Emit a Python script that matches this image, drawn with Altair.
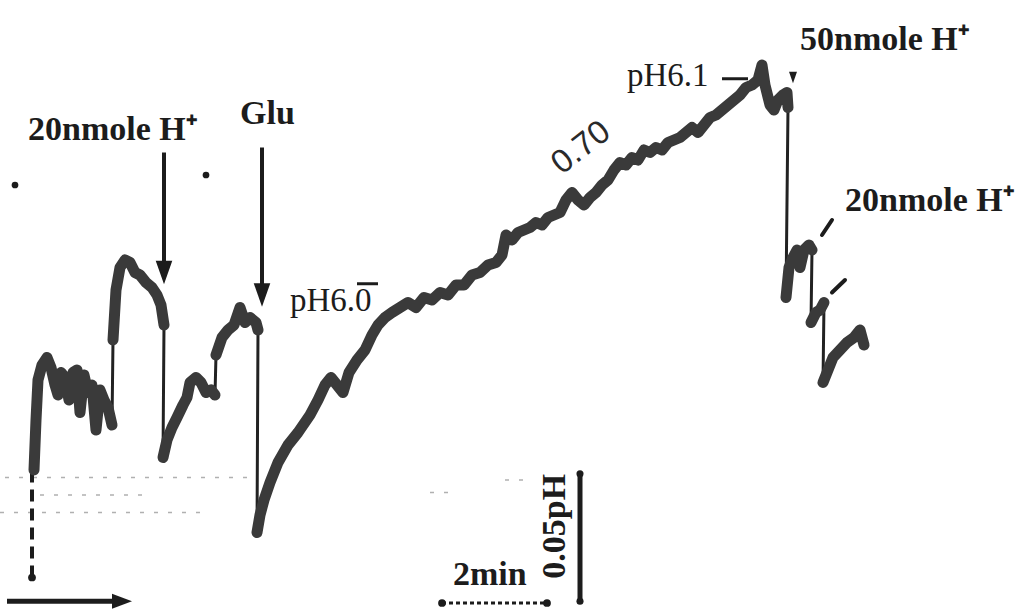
import altair as alt
import pandas as pd

# ---------------- data read from the recording ----------------
# pH trace, one list per pen segment: time (min) and pH
seg_time = [
    [0.68, 0.72, 0.76, 0.84, 0.94, 1.02, 1.10, 1.16, 1.22, 1.30, 1.38, 1.46, 1.54, 1.60, 1.68,
     1.76, 1.84, 1.92, 2.00, 2.08, 2.16, 2.24],
    [2.26, 2.32, 2.40, 2.50, 2.60, 2.70, 2.80, 2.92, 3.04, 3.14, 3.22, 3.28],
    [3.26, 3.34, 3.44, 3.54, 3.66, 3.74, 3.80, 3.92, 4.02, 4.12, 4.22, 4.30],
    [4.32, 4.44, 4.56, 4.68, 4.80, 4.90, 5.00, 5.12, 5.16],
    [5.14, 5.20, 5.28, 5.40, 5.56, 5.76, 5.96, 6.20, 6.36, 6.50, 6.62, 6.74, 6.86, 6.98, 7.14,
     7.30, 7.44, 7.56, 7.70, 7.84, 8.00, 8.16, 8.32, 8.48, 8.64, 8.80, 8.96, 9.12, 9.28, 9.44,
     9.60, 9.76, 9.92, 10.04, 10.12, 10.24, 10.36, 10.48, 10.60, 10.72, 10.84, 10.96, 11.08,
     11.20, 11.32, 11.44, 11.56, 11.68, 11.80, 11.92, 12.04, 12.16, 12.28, 12.40, 12.52, 12.64,
     12.76, 12.88, 13.00, 13.12, 13.24, 13.36, 13.48, 13.60, 13.72, 13.84, 13.96, 14.08, 14.20,
     14.32, 14.44, 14.56, 14.68, 14.80, 14.92, 15.04, 15.16, 15.24, 15.30, 15.40, 15.48, 15.56,
     15.66, 15.74, 15.76],
    [15.72, 15.78, 15.86, 15.94, 16.00, 16.08, 16.18, 16.24],
    [16.22, 16.32, 16.40, 16.48],
    [16.46, 16.54, 16.66, 16.80, 16.94, 17.08, 17.20, 17.28],
]
seg_ph = [
    [5.937, 5.957, 5.973, 5.979, 5.982, 5.978, 5.971, 5.967, 5.976, 5.974, 5.965, 5.976, 5.977,
     5.960, 5.975, 5.968, 5.971, 5.953, 5.969, 5.965, 5.962, 5.955],
    [5.989, 6.009, 6.018, 6.021, 6.020, 6.016, 6.015, 6.012, 6.010, 6.007, 6.003, 5.995],
    [5.942, 5.949, 5.954, 5.958, 5.963, 5.966, 5.972, 5.974, 5.972, 5.968, 5.969, 5.967],
    [5.983, 5.990, 5.993, 5.995, 6.002, 5.996, 5.998, 5.996, 5.993],
    [5.912, 5.919, 5.925, 5.932, 5.940, 5.947, 5.952, 5.959, 5.965, 5.971, 5.974, 5.971, 5.968,
     5.976, 5.981, 5.985, 5.991, 5.995, 5.998, 6.000, 6.002, 6.004, 6.002, 6.006, 6.005, 6.008,
     6.007, 6.011, 6.011, 6.015, 6.016, 6.019, 6.020, 6.023, 6.031, 6.029, 6.032, 6.033, 6.034,
     6.036, 6.035, 6.038, 6.039, 6.040, 6.045, 6.048, 6.045, 6.043, 6.046, 6.048, 6.051, 6.053,
     6.057, 6.060, 6.059, 6.062, 6.061, 6.065, 6.064, 6.066, 6.065, 6.068, 6.069, 6.070, 6.072,
     6.074, 6.072, 6.075, 6.078, 6.079, 6.081, 6.083, 6.085, 6.087, 6.090, 6.091, 6.093, 6.099,
     6.091, 6.083, 6.081, 6.085, 6.087, 6.088, 6.082],
    [6.006, 6.018, 6.022, 6.025, 6.018, 6.025, 6.027, 6.025],
    [5.996, 6.000, 6.001, 6.004],
    [5.972, 5.976, 5.982, 5.985, 5.988, 5.990, 5.993, 5.987],
]

# pen start (dashed) below the first segment
start_time = [0.64]
start_ph_low = [5.894]
start_ph_high = [5.937]

# injection arrows (vertical)
arrow_time = [3.28, 5.24]
arrow_ph_top = [6.064, 6.066]
arrow_ph_tip = [6.020, 6.011]
arrow_head_ph = [6.016, 6.007]

# small oblique injection ticks after the 50 nmole pulse
tick_time = [16.44, 16.64]
tick_time2 = [16.64, 16.90]
tick_ph = [6.031, 6.008]
tick_ph2 = [6.037, 6.013]

# labels
label_text = ["20nmole H⁺", "Glu", "50nmole H⁺", "20nmole H⁺"]
label_time = [0.56, 4.80, 16.00, 16.90]
label_ph = [6.069, 6.0755, 6.105, 6.0405]

ph_text = ["pH6.0", "pH6.1"]
ph_text_time = [5.80, 12.54]
ph_text_ph = [6.0005, 6.0905]

rate_text = ["0.70"]
rate_time = [11.62]
rate_ph = [6.066]

# scale bars: 2 min and 0.05 pH
bar_time = [8.84]
bar_time2 = [10.94]
bar_ph = [5.8838]
vbar_time = [11.60]
vbar_ph = [5.9355]
vbar_ph2 = [5.8845]

X_DOMAIN = [0, 20.38]
Y_DOMAIN = [5.8794, 6.125]

# ---------------- build tables ----------------
rows = []
i = 0
for s, (ts, ps) in enumerate(zip(seg_time, seg_ph)):
    for t, p in zip(ts, ps):
        rows.append({"t": t, "ph": p, "seg": s, "i": i})
        i += 1
trace = pd.DataFrame(rows)

xs = alt.Scale(domain=X_DOMAIN, nice=False, zero=False)
ys = alt.Scale(domain=Y_DOMAIN, nice=False, zero=False)


def X(f="t"):
    return alt.X(f"{f}:Q", scale=xs, axis=None)


def Y(f="ph"):
    return alt.Y(f"{f}:Q", scale=ys, axis=None)


INK = "#1c1c1c"
TRACE = "#3a3a3a"

# faint baseline marks on the paper
faint = pd.DataFrame({"t": [0.10, 0.80, 0.00, 8.60, 10.10], "t2": [5.00, 3.00, 4.20, 9.10, 10.60],
                      "ph": [5.934, 5.927, 5.920, 5.928, 5.933]})
faint_layer = alt.Chart(faint).mark_rule(color="#b0b0b0", strokeWidth=1.5, strokeDash=[4, 10]).encode(
    x=X("t"), x2="t2:Q", y=Y("ph"))

start = pd.DataFrame({"t": start_time, "lo": start_ph_low, "hi": start_ph_high})
start_layer = alt.Chart(start).mark_rule(color=INK, strokeWidth=4, strokeDash=[12, 7]).encode(
    x=X("t"), y=Y("lo"), y2="hi:Q")
start_dot = alt.Chart(start).mark_point(filled=True, color=INK, size=60, opacity=1).encode(
    x=X("t"), y=Y("lo"))

thin = alt.Chart(trace).mark_line(color="#222222", strokeWidth=3).encode(
    x=X(), y=Y(), order="i:Q")
thick = alt.Chart(trace).mark_line(color=TRACE, strokeWidth=11, strokeJoin="round",
                                   strokeCap="round").encode(
    x=X(), y=Y(), detail="seg:N", order="i:Q")

arrows = pd.DataFrame({"t": arrow_time, "top": arrow_ph_top, "tip": arrow_ph_tip, "head": arrow_head_ph})
arrow_lines = alt.Chart(arrows).mark_rule(color=INK, strokeWidth=4).encode(
    x=X("t"), y=Y("top"), y2="tip:Q")
arrow_heads = alt.Chart(arrows).mark_point(shape="M-0.7,-1L0.7,-1L0,1Z", filled=True, color=INK,
                                           size=560, opacity=1).encode(x=X("t"), y=Y("head"))

ticks = pd.DataFrame({"t": tick_time, "t2": tick_time2, "p": tick_ph, "p2": tick_ph2})
tick_layer = alt.Chart(ticks).mark_rule(color=INK, strokeWidth=4, strokeCap="round").encode(
    x=X("t"), x2="t2:Q", y=Y("p"), y2="p2:Q")

# small arrowhead at the 50 nmole pulse
head50 = pd.DataFrame({"t": [15.86], "ph": [6.094]})
head50_layer = alt.Chart(head50).mark_point(shape="M-0.7,-1L0.7,-1L0,1Z", filled=True, color=INK,
                                            size=130, opacity=1).encode(x=X(), y=Y())

labels = pd.DataFrame({"t": label_time, "ph": label_ph, "txt": label_text})
label_layer = alt.Chart(labels).mark_text(align="left", baseline="alphabetic", font="Liberation Serif",
                                          fontWeight="bold", fontSize=34, color=INK).encode(
    x=X(), y=Y(), text="txt:N")

phs = pd.DataFrame({"t": ph_text_time, "ph": ph_text_ph, "txt": ph_text})
ph_layer = alt.Chart(phs).mark_text(align="left", baseline="alphabetic", font="Liberation Serif",
                                    fontSize=33, color=INK).encode(x=X(), y=Y(), text="txt:N")

# short bar over pH6.0 and the leader line at pH6.1
leaders = pd.DataFrame({"t": [7.14, 14.44], "t2": [7.56, 14.96], "ph": [6.0115, 6.0935]})
leader_layer = alt.Chart(leaders).mark_rule(color=INK, strokeWidth=3).encode(
    x=X("t"), x2="t2:Q", y=Y("ph"))

rate = pd.DataFrame({"t": rate_time, "ph": rate_ph, "txt": rate_text})
rate_layer = alt.Chart(rate).mark_text(align="center", baseline="middle", font="Liberation Sans",
                                       fontSize=33, angle=322, color="#2a2a2a").encode(
    x=X(), y=Y(), text="txt:N")

hbar = pd.DataFrame({"t": bar_time, "t2": bar_time2, "ph": bar_ph})
hbar_layer = alt.Chart(hbar).mark_rule(color=INK, strokeWidth=3, strokeDash=[4, 3]).encode(
    x=X("t"), x2="t2:Q", y=Y("ph"))
hbar_dots = alt.Chart(pd.DataFrame({"t": bar_time + bar_time2, "ph": bar_ph * 2})).mark_point(
    filled=True, color=INK, size=60, opacity=1).encode(x=X(), y=Y())

vbar = pd.DataFrame({"t": vbar_time, "p": vbar_ph, "p2": vbar_ph2})
vbar_layer = alt.Chart(vbar).mark_rule(color=INK, strokeWidth=5).encode(
    x=X("t"), y=Y("p"), y2="p2:Q")
vbar_dots = alt.Chart(pd.DataFrame({"t": vbar_time * 2, "ph": vbar_ph + vbar_ph2})).mark_point(
    filled=True, color=INK, size=50, opacity=1).encode(x=X(), y=Y())

scale_text = pd.DataFrame({"t": [9.06], "ph": [5.891], "txt": ["2min"]})
scale_text_layer = alt.Chart(scale_text).mark_text(align="left", baseline="alphabetic",
                                                   font="Liberation Serif", fontWeight="bold",
                                                   fontSize=34, color=INK).encode(
    x=X(), y=Y(), text="txt:N")
ph_scale_text = pd.DataFrame({"t": [11.10], "ph": [5.9145], "txt": ["0.05pH"]})
ph_scale_layer = alt.Chart(ph_scale_text).mark_text(align="center", baseline="middle",
                                                    font="Liberation Serif", fontWeight="bold",
                                                    fontSize=34, angle=270, color=INK).encode(
    x=X(), y=Y(), text="txt:N")

# time arrow, bottom left
tarrow = pd.DataFrame({"t": [0.14], "t2": [2.26], "ph": [5.8845]})
tarrow_layer = alt.Chart(tarrow).mark_rule(color=INK, strokeWidth=5).encode(
    x=X("t"), x2="t2:Q", y=Y("ph"))
tarrow_head = alt.Chart(pd.DataFrame({"t": [2.44], "ph": [5.8845]})).mark_point(
    shape="M-1,-0.75L1,0L-1,0.75Z", filled=True, color=INK, size=400, opacity=1).encode(x=X(), y=Y())

# specks on the paper
specks = pd.DataFrame({"t": [0.30, 4.12], "ph": [6.051, 6.055]})
speck_layer = alt.Chart(specks).mark_point(filled=True, color=INK, size=45, opacity=1).encode(
    x=X(), y=Y())

chart = alt.layer(
    faint_layer, start_layer, start_dot, thin, thick, arrow_lines, arrow_heads, tick_layer,
    head50_layer, label_layer, ph_layer, leader_layer, rate_layer, hbar_layer, hbar_dots,
    vbar_layer, vbar_dots, scale_text_layer, ph_scale_layer, tarrow_layer, tarrow_head, speck_layer,
).properties(
    width=1019, height=614, padding=0, autosize=alt.AutoSizeParams(type="none"), background="white"
).configure_view(stroke=None)

chart.save("out.html", embed_options={"renderer": "svg", "actions": False})
